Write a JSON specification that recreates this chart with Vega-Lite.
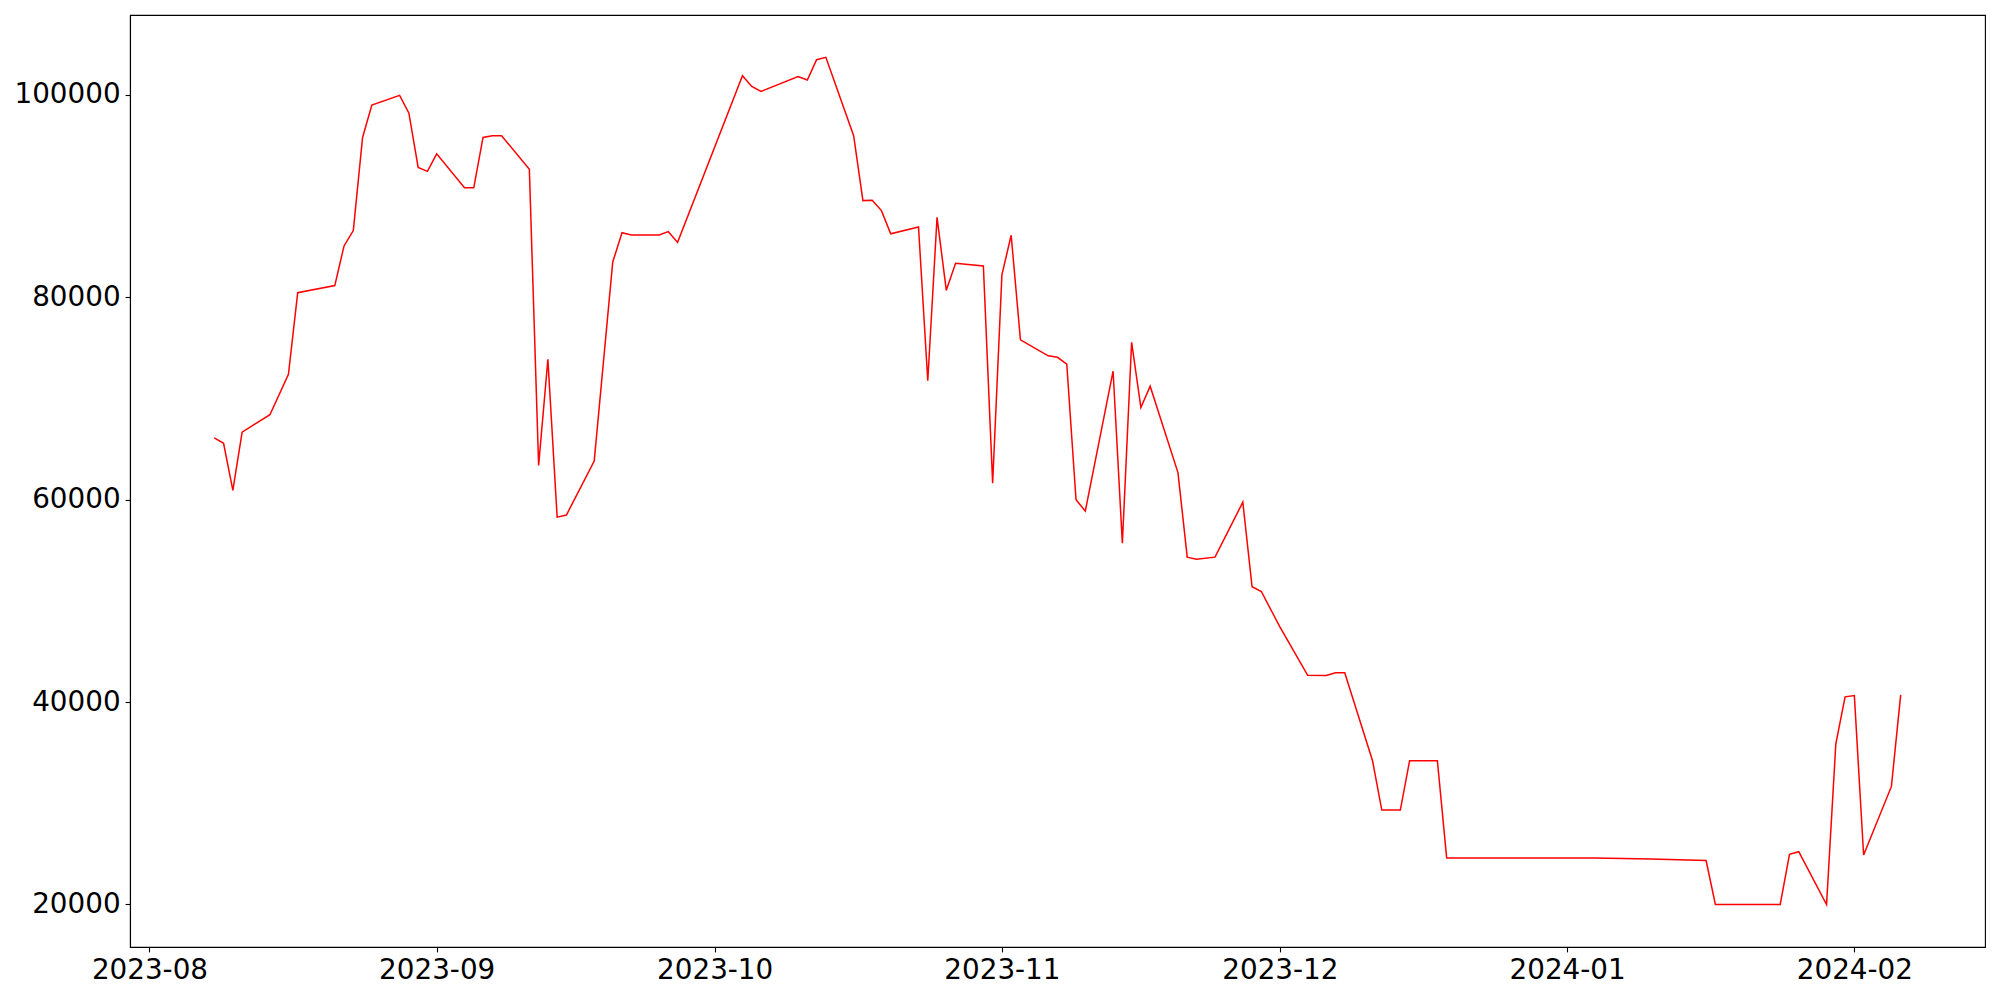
{
  "$schema": "https://vega.github.io/schema/vega-lite/v6.json",
  "autosize": "none",
  "width": 1855,
  "height": 932,
  "padding": {"left": 130, "top": 15, "right": 15, "bottom": 53},
  "background": "white",
  "config": {
    "view": {"stroke": "black", "strokeWidth": 1.1},
    "font": "DejaVu Sans"
  },
  "data": {
    "values": [
      {"date": "2023-08-08", "value": 66106},
      {"date": "2023-08-09", "value": 65576},
      {"date": "2023-08-10", "value": 60921},
      {"date": "2023-08-11", "value": 66670},
      {"date": "2023-08-14", "value": 68398},
      {"date": "2023-08-16", "value": 72384},
      {"date": "2023-08-17", "value": 80460},
      {"date": "2023-08-21", "value": 81166},
      {"date": "2023-08-22", "value": 85081},
      {"date": "2023-08-23", "value": 86597},
      {"date": "2023-08-24", "value": 95803},
      {"date": "2023-08-25", "value": 99012},
      {"date": "2023-08-28", "value": 99965},
      {"date": "2023-08-29", "value": 98201},
      {"date": "2023-08-30", "value": 92840},
      {"date": "2023-08-31", "value": 92452},
      {"date": "2023-09-01", "value": 94180},
      {"date": "2023-09-04", "value": 90830},
      {"date": "2023-09-05", "value": 90830},
      {"date": "2023-09-06", "value": 95803},
      {"date": "2023-09-07", "value": 95979},
      {"date": "2023-09-08", "value": 95979},
      {"date": "2023-09-11", "value": 92664},
      {"date": "2023-09-12", "value": 63390},
      {"date": "2023-09-13", "value": 73865},
      {"date": "2023-09-14", "value": 58276},
      {"date": "2023-09-15", "value": 58488},
      {"date": "2023-09-18", "value": 63813},
      {"date": "2023-09-20", "value": 83494},
      {"date": "2023-09-21", "value": 86386},
      {"date": "2023-09-22", "value": 86174},
      {"date": "2023-09-25", "value": 86174},
      {"date": "2023-09-26", "value": 86492},
      {"date": "2023-09-27", "value": 85433},
      {"date": "2023-10-04", "value": 101905},
      {"date": "2023-10-05", "value": 100846},
      {"date": "2023-10-06", "value": 100353},
      {"date": "2023-10-10", "value": 101834},
      {"date": "2023-10-11", "value": 101481},
      {"date": "2023-10-12", "value": 103492},
      {"date": "2023-10-13", "value": 103719},
      {"date": "2023-10-16", "value": 95979},
      {"date": "2023-10-17", "value": 89560},
      {"date": "2023-10-18", "value": 89595},
      {"date": "2023-10-19", "value": 88572},
      {"date": "2023-10-20", "value": 86280},
      {"date": "2023-10-23", "value": 86950},
      {"date": "2023-10-24", "value": 71750},
      {"date": "2023-10-25", "value": 87900},
      {"date": "2023-10-26", "value": 80690},
      {"date": "2023-10-27", "value": 83370},
      {"date": "2023-10-30", "value": 83100},
      {"date": "2023-10-31", "value": 61640},
      {"date": "2023-11-01", "value": 82223},
      {"date": "2023-11-02", "value": 86139},
      {"date": "2023-11-03", "value": 75804},
      {"date": "2023-11-06", "value": 74216},
      {"date": "2023-11-07", "value": 74076},
      {"date": "2023-11-08", "value": 73406},
      {"date": "2023-11-09", "value": 60002},
      {"date": "2023-11-10", "value": 58874},
      {"date": "2023-11-13", "value": 72700},
      {"date": "2023-11-14", "value": 55699},
      {"date": "2023-11-15", "value": 75557},
      {"date": "2023-11-16", "value": 69102},
      {"date": "2023-11-17", "value": 71218},
      {"date": "2023-11-20", "value": 62683},
      {"date": "2023-11-21", "value": 54324},
      {"date": "2023-11-22", "value": 54113},
      {"date": "2023-11-24", "value": 54324},
      {"date": "2023-11-27", "value": 59755},
      {"date": "2023-11-28", "value": 51400},
      {"date": "2023-11-29", "value": 50930},
      {"date": "2023-12-01", "value": 47430},
      {"date": "2023-12-04", "value": 42640},
      {"date": "2023-12-06", "value": 42630},
      {"date": "2023-12-07", "value": 42890},
      {"date": "2023-12-08", "value": 42890},
      {"date": "2023-12-11", "value": 34195},
      {"date": "2023-12-12", "value": 29323},
      {"date": "2023-12-14", "value": 29323},
      {"date": "2023-12-15", "value": 34195},
      {"date": "2023-12-18", "value": 34195},
      {"date": "2023-12-19", "value": 24583},
      {"date": "2024-01-04", "value": 24583},
      {"date": "2024-01-10", "value": 24480},
      {"date": "2024-01-16", "value": 24340},
      {"date": "2024-01-17", "value": 20000},
      {"date": "2024-01-24", "value": 20000},
      {"date": "2024-01-25", "value": 24945},
      {"date": "2024-01-26", "value": 25208},
      {"date": "2024-01-29", "value": 19980},
      {"date": "2024-01-30", "value": 35874},
      {"date": "2024-01-31", "value": 40514},
      {"date": "2024-02-01", "value": 40646},
      {"date": "2024-02-02", "value": 24881},
      {"date": "2024-02-05", "value": 31662},
      {"date": "2024-02-06", "value": 40711}
    ]
  },
  "mark": {"type": "line", "color": "#ff0000", "strokeWidth": 1.5, "clip": true},
  "encoding": {
    "x": {
      "field": "date",
      "type": "temporal",
      "scale": {
        "type": "utc",
        "domain": [
          {"year": 2023, "month": 7, "date": 29, "hours": 21, "minutes": 36, "utc": true},
          {"year": 2024, "month": 2, "date": 15, "hours": 2, "minutes": 24, "utc": true}
        ],
        "nice": false
      },
      "axis": {
        "title": null,
        "values": [
          {"year": 2023, "month": 8, "date": 1, "utc": true},
          {"year": 2023, "month": 9, "date": 1, "utc": true},
          {"year": 2023, "month": 10, "date": 1, "utc": true},
          {"year": 2023, "month": 11, "date": 1, "utc": true},
          {"year": 2023, "month": 12, "date": 1, "utc": true},
          {"year": 2024, "month": 1, "date": 1, "utc": true},
          {"year": 2024, "month": 2, "date": 1, "utc": true}
        ],
        "labelExpr": "utcFormat(datum.value, '%Y-%m')",
        "grid": false,
        "domainColor": "black",
        "domainWidth": 1.1,
        "tickColor": "black",
        "tickWidth": 1.1,
        "tickSize": 4.9,
        "labelFont": "DejaVu Sans",
        "labelFontSize": 27.8,
        "labelColor": "black",
        "labelPadding": 4.9,
        "labelFlush": false,
        "labelOverlap": false
      }
    },
    "y": {
      "field": "value",
      "type": "quantitative",
      "scale": {"domain": [15790, 107906], "zero": false, "nice": false},
      "axis": {
        "title": null,
        "values": [20000, 40000, 60000, 80000, 100000],
        "format": "d",
        "grid": false,
        "domainColor": "black",
        "domainWidth": 1.1,
        "tickColor": "black",
        "tickWidth": 1.1,
        "tickSize": 4.9,
        "labelFont": "DejaVu Sans",
        "labelFontSize": 27.8,
        "labelColor": "black",
        "labelPadding": 5,
        "labelOverlap": false
      }
    }
  }
}
